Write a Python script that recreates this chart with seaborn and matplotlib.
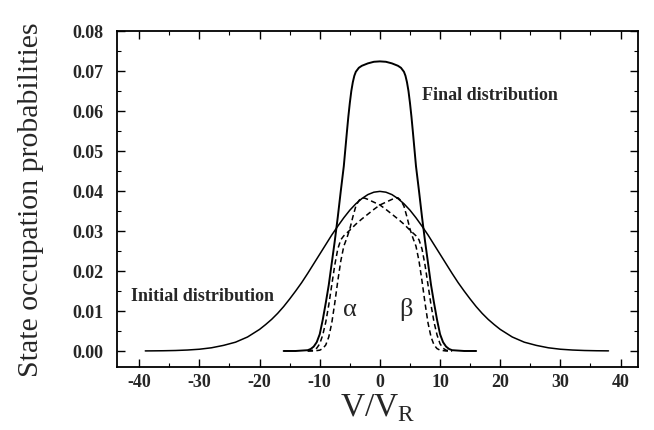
import matplotlib
matplotlib.use("Agg")
import matplotlib.pyplot as plt
import seaborn as sns
import pandas as pd
from matplotlib.ticker import MultipleLocator, FormatStrFormatter

# ---- data ----
init_u = [-39, -38, -36, -34, -32, -30, -28, -26, -24, -22, -20, -19, -18, -17, -16, -15,
          -14, -13, -12, -11, -10, -9, -8, -7, -6, -5, -4, -3, -2, -1, 0,
          1, 2, 3, 4, 5, 6, 7, 8, 9, 10, 11, 12, 13, 14, 15, 16, 17, 18, 19, 20,
          22, 24, 26, 28, 30, 32, 34, 36, 38]
init_v = [0.00002, 0.00003, 0.00006, 0.00012, 0.00024, 0.00044, 0.0008, 0.0014, 0.0022, 0.0035,
          0.0054, 0.0066, 0.0079, 0.0094, 0.0111, 0.0130, 0.0150, 0.0171, 0.0194, 0.0218,
          0.0242, 0.0266, 0.0290, 0.0312, 0.0333, 0.0352, 0.0368, 0.0381, 0.0391, 0.0397, 0.0399,
          0.0397, 0.0391, 0.0381, 0.0368, 0.0352, 0.0333, 0.0312, 0.0290, 0.0266, 0.0242,
          0.0218, 0.0194, 0.0171, 0.0150, 0.0130, 0.0111, 0.0094, 0.0079, 0.0066, 0.0054,
          0.0035, 0.0022, 0.0014, 0.0008, 0.00044, 0.00024, 0.00012, 0.00006, 0.00003]

final_u = [-16, -14, -12, -11.5, -11, -10.5, -10, -9.5, -9, -8.5, -8, -7.5, -7, -6.5, -6,
           -5.5, -5.25, -5, -4.75, -4.5, -4.25, -4, -3.5, -3, -2, -1, 0,
           1, 2, 3, 3.5, 4, 4.25, 4.5, 4.75, 5, 5.25, 5.5, 6, 6.5, 7, 7.5, 8, 8.5, 9,
           9.5, 10, 10.5, 11, 11.5, 12, 14, 16]
final_v = [0.0000, 0.0000, 0.0002, 0.0005, 0.0011, 0.0022, 0.0042, 0.0078, 0.0120, 0.0165,
           0.0220, 0.0275, 0.0335, 0.0400, 0.0462, 0.0545, 0.0585, 0.0620, 0.0650, 0.0672,
           0.0688, 0.0698, 0.0708, 0.0713, 0.0719, 0.0723, 0.0724,
           0.0723, 0.0719, 0.0713, 0.0708, 0.0698, 0.0688, 0.0672, 0.0650, 0.0620, 0.0585,
           0.0545, 0.0462, 0.0400, 0.0335, 0.0275, 0.0220, 0.0165, 0.0120, 0.0078, 0.0042,
           0.0022, 0.0011, 0.0005, 0.0002, 0.0000, 0.0000]

alpha_u = [-12, -11, -10, -9.5, -9, -8.5, -8, -7.5, -7, -6.5, -6, -5.5, -5, -4.5, -4, -3.5,
           -3, -2.5, -2, -1, 0, 1, 2, 3, 4, 5, 5.5, 6, 6.5, 7, 7.5, 8, 8.5, 9, 9.5, 10,
           10.5, 11, 12]
alpha_v = [0.0000, 0.0000, 0.0002, 0.0006, 0.0015, 0.0035, 0.0070, 0.0120, 0.0175, 0.0225,
           0.0262, 0.0282, 0.0305, 0.0335, 0.0362, 0.0376, 0.0383, 0.0382, 0.0379, 0.0372,
           0.0365, 0.0354, 0.0342, 0.0330, 0.0317, 0.0302, 0.0295, 0.0288, 0.0278, 0.0255,
           0.0215, 0.0165, 0.0115, 0.0072, 0.0040, 0.0018, 0.0007, 0.0002, 0.0000]

beta_u = [-12, -11, -10.5, -10, -9.5, -9, -8.5, -8, -7.5, -7, -6.5, -6, -5.5, -5, -4, -3,
          -2, -1, 0, 1, 2, 2.5, 3, 3.5, 4, 4.5, 5, 5.5, 6, 6.5, 7, 7.5, 8, 8.5, 9, 9.5,
          10, 11, 12]
beta_v = [0.0000, 0.0002, 0.0007, 0.0018, 0.0040, 0.0072, 0.0115, 0.0165, 0.0215, 0.0255,
          0.0278, 0.0288, 0.0295, 0.0302, 0.0317, 0.0330, 0.0342, 0.0354, 0.0365, 0.0372,
          0.0379, 0.0382, 0.0383, 0.0376, 0.0362, 0.0335, 0.0305, 0.0282, 0.0262, 0.0225,
          0.0175, 0.0120, 0.0070, 0.0035, 0.0015, 0.0006, 0.0002, 0.0000, 0.0000]

x_ticks = [-40, -30, -20, -10, 0, 10, 20, 30, 40]
y_ticks = [0.00, 0.01, 0.02, 0.03, 0.04, 0.05, 0.06, 0.07, 0.08]

# ---- style ----
sns.set_style("ticks")
plt.rcParams['font.family'] = ['Liberation Serif', 'DejaVu Serif']
plt.rcParams['mathtext.fontset'] = 'custom'
plt.rcParams['mathtext.rm'] = 'Liberation Serif'
plt.rcParams['axes.unicode_minus'] = False

fig = plt.figure(figsize=(6.54, 4.31), dpi=100)
ax = fig.add_axes([0.1789, 0.1462, 0.7966, 0.7796])

sns.lineplot(x=init_u, y=init_v, ax=ax, color='black', lw=1.1, estimator=None, sort=False)
sns.lineplot(x=final_u, y=final_v, ax=ax, color='black', lw=1.4, estimator=None, sort=False)
sns.lineplot(x=alpha_u, y=alpha_v, ax=ax, color='black', lw=1.1, estimator=None, sort=False)
sns.lineplot(x=beta_u, y=beta_v, ax=ax, color='black', lw=1.1, estimator=None, sort=False)
ax.lines[2].set_linestyle((0, (3.5, 2.2)))
ax.lines[3].set_linestyle((0, (3.5, 2.2)))

ax.set_xlim(-43.7, 42.9)
ax.set_ylim(-0.004, 0.08)
ax.set_xticks(x_ticks)
ax.set_yticks(y_ticks)
ax.xaxis.set_minor_locator(MultipleLocator(5))
ax.yaxis.set_minor_locator(MultipleLocator(0.005))
ax.yaxis.set_major_formatter(FormatStrFormatter('%.2f'))
ax.tick_params(which='both', direction='in', top=True, right=True, color='black')
ax.tick_params(which='major', length=6, width=1.0, labelsize=13)
ax.tick_params(axis='x', which='major', pad=4)
ax.tick_params(axis='y', which='major', pad=10)
ax.tick_params(which='minor', length=3, width=0.8)
for lab in ax.get_xticklabels() + ax.get_yticklabels():
    lab.set_fontweight('bold')
for s in ax.spines.values():
    s.set_linewidth(1.3)
    s.set_color('black')

ax.set_ylabel('State occupation probabilities', fontsize=21.5, labelpad=20)
ax.set_xlabel(r'V/V$_\mathrm{R}$', fontsize=24, labelpad=1)

ax.text(7.0, 0.0640, 'Final distribution', fontsize=13, fontweight='bold', va='center', ha='left')
ax.text(-41.4, 0.0138, 'Initial distribution', fontsize=13, fontweight='bold', va='center', ha='left')
ax.text(-5.0, 0.0105, 'α', fontsize=19, va='center', ha='center')
ax.text(4.4, 0.0105, 'β', fontsize=19, va='center', ha='center')

fig.savefig('out.png', dpi=100)
